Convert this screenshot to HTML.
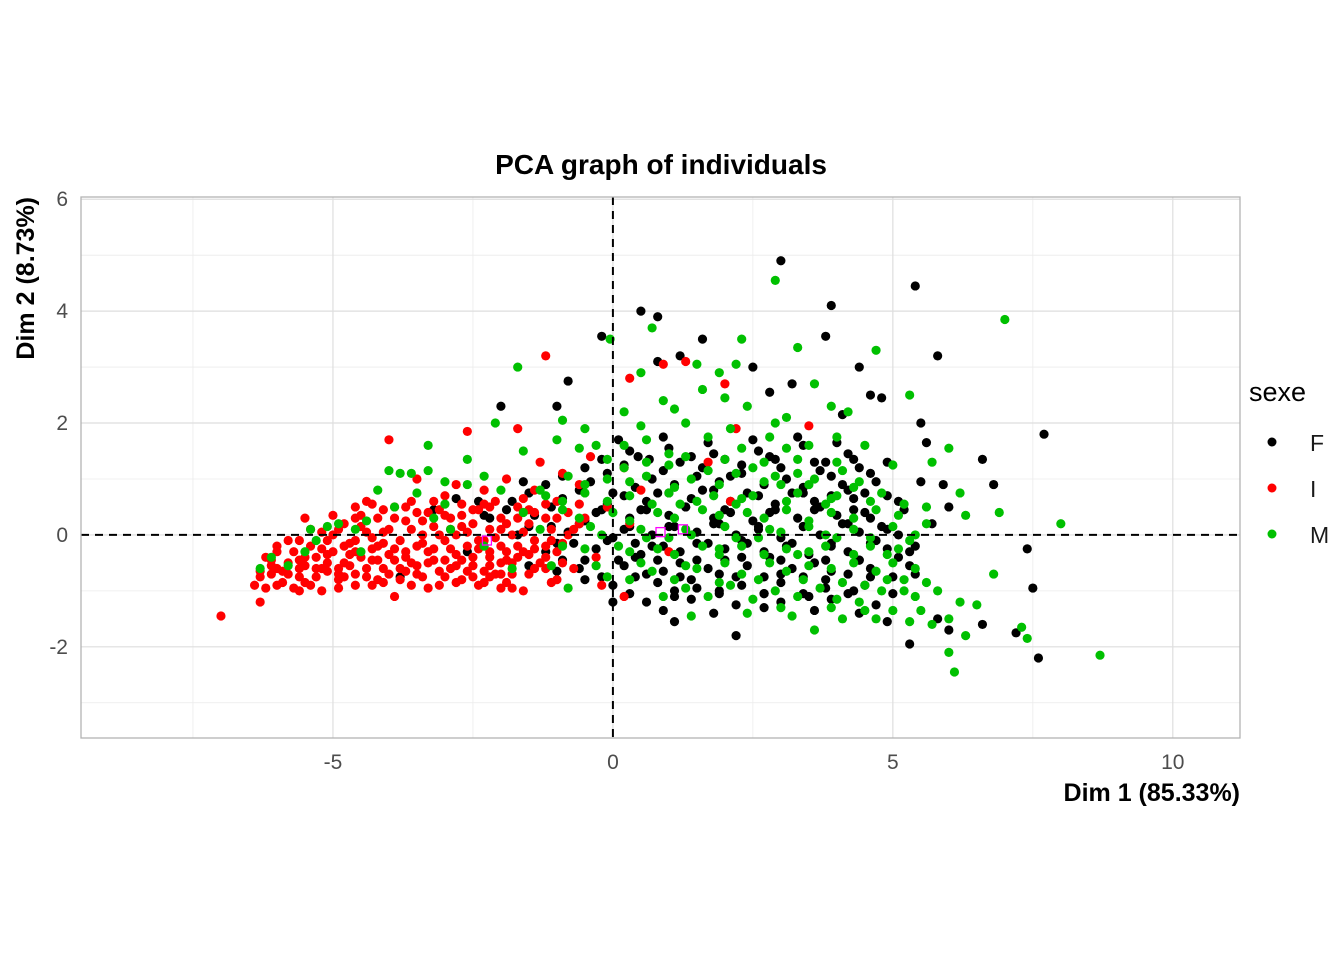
<!DOCTYPE html>
<html><head><meta charset="utf-8"><style>
html,body{margin:0;padding:0;background:#fff;}
svg{display:block;font-family:"Liberation Sans",sans-serif;}
</style></head><body>
<svg id="chart" width="1344" height="960" viewBox="0 0 1344 960">
<rect width="1344" height="960" fill="#fff"/>
<g id="grid"></g>
<g id="marks"></g>
<g id="axes"></g>
<text x="661" y="174" text-anchor="middle" font-size="28" font-weight="bold">PCA graph of individuals</text>
<text x="1240" y="801" text-anchor="end" font-size="25" font-weight="bold">Dim 1 (85.33%)</text>
<text transform="translate(34,197) rotate(-90)" text-anchor="end" font-size="25" font-weight="bold">Dim 2 (8.73%)</text>
<g>
<text x="1249" y="401" font-size="27">sexe</text>
<g><circle cx="1272" cy="442" r="4.5" fill="#000"/><text x="1310" y="451" font-size="23" fill="#1a1a1a">F</text></g>
<g><circle cx="1272" cy="488" r="4.5" fill="#ff0000"/><text x="1310" y="497" font-size="23" fill="#1a1a1a">I</text></g>
<g><circle cx="1272" cy="534" r="4.5" fill="#00c000"/><text x="1310" y="543" font-size="23" fill="#1a1a1a">M</text></g>
</g>
</svg>
<script>
const xTicks = [-5, 0, 5, 10];
const yTicks = [-2, 0, 2, 4, 6];
const xMinor = [-7.5, -2.5, 2.5, 7.5];
const yMinor = [-3, -1, 1, 3, 5];
const seriesF = [[3.0,4.9],[5.4,4.45],[3.9,4.1],[0.5,4.0],[0.8,3.9],[-0.2,3.55],[3.8,3.55],[5.8,3.2],[1.2,3.2],[0.8,3.1],[7.7,1.8],[7.5,-0.95],[7.6,-2.2],[7.2,-1.75],[7.4,-0.25],[6.6,1.35],[6.8,0.9],[5.9,0.9],[6.0,0.5],[5.6,1.65],[5.8,-1.5],[6.0,-1.7],[5.3,-1.95],[4.9,-1.55],[2.2,-1.8],[1.1,-1.55],[0.0,-1.2],[4.8,2.45],[4.6,2.5],[4.4,3.0],[3.2,2.7],[2.8,2.55],[1.6,3.5],[-1.0,2.3],[-0.8,2.75],[-2.0,2.3],[-3.8,-0.75],[-2.8,0.65],[-2.3,0.35],[6.6,-1.6],[5.7,0.2],[5.5,2.0],[4.1,2.15],[2.5,3.0],
[0.3,1.5],[1.0,1.55],[1.8,1.45],[2.6,1.5],[3.4,1.6],[4.2,1.45],
[-0.5,1.2],[0.2,1.25],[0.9,1.15],[1.6,1.2],[2.3,1.25],[3.0,1.2],[3.7,1.15],[4.4,1.2],[4.9,1.3],
[-1.2,0.9],[-0.4,0.95],[0.4,0.85],[1.1,0.9],[1.9,0.95],[2.7,0.9],[3.4,0.85],[4.1,0.9],[4.7,0.95],
[-1.8,0.6],[-0.9,0.65],[-0.1,0.55],[0.6,0.6],[1.4,0.65],[2.1,0.6],[2.9,0.55],[3.6,0.6],[4.3,0.65],[5.1,0.6],
[-2.2,0.3],[-1.4,0.35],[-0.5,0.25],[0.3,0.3],[1.0,0.35],[1.8,0.3],[2.5,0.25],[3.3,0.3],[4.0,0.35],[4.6,0.3],
[-1.7,0.0],[-0.8,0.05],[0.0,-0.05],[0.7,0.0],[1.5,0.05],[2.2,0.0],[3.0,-0.05],[3.7,0.0],[4.4,0.05],[5.1,0.0],
[-1.2,-0.3],[-0.3,-0.25],[0.5,-0.35],[1.2,-0.3],[2.0,-0.25],[2.7,-0.3],[3.5,-0.35],[4.2,-0.3],[4.9,-0.25],
[-0.6,-0.6],[0.2,-0.55],[0.9,-0.65],[1.7,-0.6],[2.4,-0.55],[3.2,-0.6],[3.9,-0.65],[4.6,-0.6],[5.3,-0.55],
[0.0,-0.9],[0.8,-0.85],[1.5,-0.95],[2.3,-0.9],[3.0,-0.85],[3.8,-0.95],[4.5,-0.9],
[0.6,-1.2],[1.4,-1.15],[2.2,-1.25],[3.0,-1.2],[3.9,-1.15],[4.7,-1.25],
[0.65,1.35],[1.4,1.4],[2.1,1.05],[2.9,1.35],[3.8,1.3],[0.0,0.75],[0.8,0.75],[1.6,0.8],[2.4,0.75],[3.2,0.75],[3.9,0.7],[4.5,0.75],
[-0.2,0.45],[0.6,0.45],[1.3,0.5],[2.0,0.45],[2.8,0.4],[3.6,0.45],[4.3,0.45],[-1.1,0.15],[0.3,0.15],[1.1,0.15],[1.9,0.2],[2.6,0.15],[3.4,0.15],[4.1,0.2],[4.8,0.15],
[-0.7,-0.15],[0.4,-0.15],[0.9,-0.2],[1.7,-0.15],[2.4,-0.15],[3.2,-0.15],[3.9,-0.2],[4.6,-0.15],[0.1,-0.45],[0.8,-0.45],[1.5,-0.45],[2.3,-0.4],[3.0,-0.45],[3.8,-0.45],[4.4,-0.45],
[0.4,-0.75],[1.2,-0.75],[1.9,-0.7],[2.7,-0.75],[3.4,-0.75],[4.2,-0.7],[5.0,-0.75],[1.1,-1.0],[1.9,-1.05],[2.7,-1.05],[3.4,-1.05],[4.2,-1.05],[5.0,-1.05],[-1.5,-0.55],[-0.9,-0.45],[5.5,0.95],[5.3,-0.3],
[0.1,1.7],[0.9,1.75],[1.7,1.65],[2.5,1.7],[3.3,1.75],[4.0,1.65],
[-0.2,1.35],[0.45,1.4],[1.2,1.3],[2.0,1.35],[2.8,1.4],[3.6,1.3],[4.3,1.35],
[-0.9,1.05],[-0.1,1.1],[0.7,1.0],[1.5,1.05],[2.3,1.1],[3.1,1.0],[3.9,1.05],[4.6,1.1],
[-1.5,0.75],[-0.6,0.8],[0.2,0.7],[1.0,0.75],[1.8,0.8],[2.6,0.7],[3.4,0.75],[4.2,0.8],[4.9,0.7],
[-1.9,0.45],[-1.1,0.5],[-0.3,0.4],[0.5,0.45],[1.3,0.5],[2.1,0.4],[2.9,0.45],[3.7,0.5],[4.5,0.4],[5.2,0.45],
[-1.5,0.15],[-0.6,0.2],[0.2,0.1],[1.0,0.15],[1.8,0.2],[2.6,0.1],[3.4,0.15],[4.2,0.2],[4.9,0.1],
[-1.0,-0.15],[-0.1,-0.1],[0.7,-0.2],[1.5,-0.15],[2.3,-0.1],[3.1,-0.2],[3.9,-0.15],[4.7,-0.1],[5.4,-0.2],
[-0.5,-0.45],[0.4,-0.4],[1.2,-0.5],[2.0,-0.45],[2.8,-0.4],[3.6,-0.5],[4.4,-0.45],[5.1,-0.4],
[-0.2,-0.75],[0.6,-0.7],[1.4,-0.8],[2.2,-0.75],[3.0,-0.7],[3.8,-0.8],[4.6,-0.75],[5.4,-0.7],
[0.3,-1.05],[1.1,-1.1],[1.9,-1.0],[2.7,-1.05],[3.5,-1.1],[4.3,-1.0],
[0.9,-1.35],[1.8,-1.4],[2.7,-1.3],[3.6,-1.35],[4.4,-1.4],[-0.5,-0.8],[-1.0,-0.65],[-1.6,0.95],[-2.4,0.6],[-2.6,-0.3],[-3.2,0.45]];
const seriesI = [[-7.0,-1.45],[-6.3,-1.2],[-6.4,-0.9],[-6.2,-0.95],[-6.1,-0.7],[-6.0,-0.6],[-6.2,-0.4],[-5.9,-0.85],[-5.8,-0.5],[-5.7,-0.3],[-5.6,-0.75],[-5.5,-0.55],[-5.4,-0.2],[-5.4,-0.9],[-5.3,-0.4],[-5.2,-1.0],[-5.1,-0.65],[-5.0,-0.3],[-5.0,0.0],[-4.9,-0.8],[-4.8,-0.5],[-4.8,0.2],[-4.7,-0.15],[-4.6,-0.7],[-4.5,0.35],[-4.5,-0.4],[-4.4,0.05],[-4.3,-0.9],[-4.3,-0.25],[-4.2,0.3],[-4.1,-0.6],[-4.0,0.1],[-4.0,-0.35],[-3.9,-1.1],[-3.9,0.5],[-3.8,-0.8],[-3.8,-0.1],[-3.7,0.25],[-3.6,-0.5],[-3.6,0.6],[-3.5,-0.2],[-3.4,0.0],[-3.4,-0.75],[-3.3,0.4],[-3.2,-0.45],[-3.2,0.15],[-3.1,-0.9],[-3.0,-0.1],[-3.0,0.7],[-2.9,-0.6],[-2.9,0.3],[-2.8,0.0],[-2.8,-0.35],[-2.7,-0.8],[-2.7,0.55],[-2.6,-0.2],[-2.6,1.85],[-2.5,0.2],[-2.5,-0.55],[-2.4,-0.9],[-2.4,0.45],[-2.3,-0.1],[-2.3,0.8],[-2.2,-0.4],[-2.2,0.1],[-2.1,-0.7],[-2.1,0.6],[-2.0,-0.2],[-2.0,0.3],[-1.9,-0.85],[-1.9,1.0],[-1.8,-0.5],[-1.8,0.0],[-1.7,1.9],[-1.7,0.5],[-1.6,-1.0],[-1.6,-0.3],[-1.5,0.2],[-1.5,-0.7],[-1.4,0.8],[-1.4,-0.1],[-1.3,-0.5],[-1.3,1.3],[-1.2,3.2],[-1.2,0.3],[-1.1,-0.85],[-1.0,0.6],[-1.0,-0.3],[-0.9,1.1],[-0.8,0.0],[-0.7,-0.6],[-0.6,0.9],[-0.5,0.3],[-0.3,-0.4],[-0.1,0.5],[0.2,-1.1],[0.3,2.8],[0.2,1.2],[0.9,3.05],[1.3,3.1],[2.0,2.7],[2.2,1.9],[3.5,1.95],[1.7,1.3],[2.1,0.6],[-4.0,1.7],[-5.5,0.3],[-6.0,-0.2],[-5.1,-0.1],[-4.6,0.5],[-3.3,-0.95],[-2.0,-0.95],[-1.0,-0.8],[-3.5,1.0],[-2.8,0.9],[-4.4,0.6],[-5.8,-0.1],[-6.1,-0.45],[-5.3,-0.75],[-4.2,-0.8],[-3.7,-0.65],[-2.4,-0.25],[-1.6,0.65],[-0.4,1.4],[0.5,0.8],[1.0,-0.3],[-0.2,-0.9],[-5.6,-1.0],[-4.9,-0.95],[-4.1,0.45],[-3.0,-0.45],[-2.2,-0.75],[-1.2,-0.6],[-0.6,0.2],[0.3,0.2],
[-5.9,-0.65],[-5.6,-0.45],[-5.2,-0.6],[-5.2,-0.25],[-4.9,-0.6],[-4.7,-0.35],[-4.6,-0.1],[-4.4,-0.6],[-4.2,-0.45],[-4.1,-0.15],[-3.9,-0.45],[-3.7,-0.3],[-3.5,-0.55],[-3.4,0.25],[-3.3,-0.3],[-3.1,-0.65],[-3.1,0.45],[-2.9,-0.25],[-2.7,0.15],[-2.6,-0.65],[-2.5,-0.4],[-2.3,0.55],[-2.2,-0.55],[-2.0,-0.5],[-1.9,0.2],[-1.8,-0.7],[-1.7,-0.2],[-1.5,-0.35],[-1.4,0.4],[-1.2,-0.2],[-1.1,0.1],[-0.9,-0.5],[-0.8,0.4],[-4.8,-0.75],[-5.7,-0.95],[-6.3,-0.75],
[-4.3,0.55],[-3.7,0.5],[-3.2,0.6],[-2.7,0.35],[-2.2,0.5],[-1.7,0.3],[-1.2,0.55],
[-5.0,0.35],[-4.6,0.3],[-3.9,0.3],[-3.5,0.4],[-3.0,0.35],[-2.5,0.45],[-2.0,0.1],[-1.5,0.45],[-1.0,0.3],[-0.6,0.55],
[-5.4,0.1],[-4.9,0.1],[-4.5,0.15],[-4.1,0.05],[-3.6,0.1],[-3.1,0.0],[-2.6,0.05],[-2.1,-0.05],[-1.6,0.05],[-1.1,-0.1],[-0.7,0.1],
[-5.6,-0.1],[-5.2,0.05],[-4.8,-0.2],[-4.3,-0.05],[-3.9,-0.25],[-3.4,-0.15],[-2.9,0.1],[-2.4,-0.1],[-1.9,-0.3],[-1.4,-0.25],[-0.9,-0.15],
[-6.0,-0.3],[-5.5,-0.4],[-5.1,-0.35],[-4.6,-0.3],[-4.2,-0.2],[-3.7,-0.4],[-3.2,-0.25],[-2.7,-0.45],[-2.2,-0.3],[-1.7,-0.4],[-1.2,-0.4],
[-6.1,-0.55],[-5.6,-0.6],[-5.1,-0.5],[-4.7,-0.55],[-4.3,-0.45],[-3.8,-0.6],[-3.3,-0.5],[-2.8,-0.55],[-2.3,-0.65],[-1.9,-0.45],[-1.4,-0.6],
[-6.3,-0.65],[-5.8,-0.7],[-5.3,-0.6],[-4.9,-0.7],[-4.4,-0.75],[-4.0,-0.7],[-3.5,-0.7],[-3.0,-0.75],[-2.5,-0.75],[-2.0,-0.7],
[-6.0,-0.9],[-5.5,-0.85],[-4.6,-0.9],[-4.1,-0.85],[-3.6,-0.9],[-2.8,-0.85],[-2.3,-0.85],[-1.8,-0.95]];
const seriesM = [[2.9,4.55],[7.0,3.85],[8.7,-2.15],[8.0,0.2],[6.1,-2.45],[6.0,-2.1],[7.4,-1.85],[7.3,-1.65],[6.2,0.75],[6.3,0.35],[5.7,1.3],[6.0,1.55],[6.9,0.4],[6.8,-0.7],[5.3,2.5],[4.7,3.3],[3.3,3.35],[2.3,3.5],[2.2,3.05],[1.5,3.05],[0.7,3.7],[-0.05,3.5],[-1.7,3.0],[-2.1,2.0],[-3.3,1.6],[-4.0,1.15],[-4.9,0.2],[-5.1,0.15],[-5.5,-0.3],[-6.1,-0.4],[-6.3,-0.6],[-4.5,-0.3],[-3.0,0.55],[-3.8,1.1],[-2.6,1.35],[-0.9,2.05],[-1.3,0.8],[3.6,2.7],[4.2,2.2],[4.0,1.75],[5.6,0.5],[5.6,0.2],[5.0,1.25],[6.2,-1.2],[6.5,-1.25],[5.8,-1.0],[5.4,-1.1],[5.2,-0.8],[4.8,-1.0],[3.6,-1.7],[1.4,-1.45],[-0.8,-0.95],[-1.8,-0.6],[6.0,-1.5],[6.3,-1.8],[5.7,-1.6],
[-3.6,1.1],[-3.3,1.15],[-4.2,0.8],[-3.9,0.5],[-3.5,0.75],[-2.3,1.05],[-1.6,1.5],[-1.0,1.7],[-0.5,1.9],[0.2,2.2],[0.9,2.4],[1.6,2.6],[2.4,2.3],[3.1,2.1],[3.9,2.3],[0.5,2.9],[1.9,2.9],[-5.3,-0.1],[-4.6,0.1],[-2.9,0.1],
[-0.1,1.35],[0.6,1.3],[1.3,1.4],[2.0,1.35],[2.7,1.3],[3.3,1.35],[4.0,1.3],[-0.8,1.05],[-0.1,1.0],[0.6,1.05],[1.4,1.0],[2.2,1.1],[2.9,1.05],[3.6,1.0],[4.4,0.95],
[-1.2,0.7],[-0.5,0.75],[0.3,0.7],[1.0,0.75],[1.8,0.7],[2.5,0.7],[3.3,0.75],[4.0,0.7],[4.8,0.75],[-1.6,0.4],[-0.9,0.45],[0.0,0.4],[0.8,0.4],[1.6,0.45],[2.4,0.4],[3.1,0.45],[3.9,0.4],[4.7,0.45],
[-1.3,0.1],[-0.4,0.15],[0.5,0.1],[1.3,0.1],[2.0,0.15],[2.8,0.1],[3.5,0.15],[4.3,0.1],[5.0,0.15],[-0.9,-0.2],[0.1,-0.2],[0.8,-0.25],[1.6,-0.2],[2.3,-0.2],[3.1,-0.25],[3.8,-0.2],[4.6,-0.2],[5.3,-0.1],
[-0.3,-0.55],[0.5,-0.5],[1.3,-0.55],[2.0,-0.5],[2.8,-0.5],[3.5,-0.55],[4.3,-0.5],[5.0,-0.5],[0.3,-0.8],[1.1,-0.8],[1.9,-0.85],[2.6,-0.8],[3.4,-0.8],[4.1,-0.85],[4.9,-0.8],[5.6,-0.85],
[0.9,-1.1],[1.7,-1.1],[2.5,-1.15],[3.3,-1.1],[4.0,-1.15],[4.5,-1.35],[3.2,-1.45],[2.4,-1.4],[4.1,-1.5],[5.0,-1.35],[5.5,-1.35],[1.2,0.55],[2.2,0.55],[3.0,0.9],[3.8,0.55],[1.0,-0.05],[2.6,-0.05],[4.0,-0.05],[1.9,-0.35],[3.3,-0.35],[4.9,-0.35],[0.6,1.7],[1.7,1.75],[2.8,1.75],[3.5,1.6],[4.5,1.6],[-0.3,1.6],
[0.5,1.95],[1.3,2.0],[2.1,1.9],[2.9,2.0],[1.1,2.25],[2.0,2.45],[-0.6,1.55],[0.2,1.6],[1.0,1.45],[2.3,1.55],[3.1,1.55],
[0.2,1.2],[1.0,1.25],[1.7,1.15],[2.5,1.2],[3.3,1.1],[4.1,1.15],[-0.5,0.9],[0.3,0.95],[1.1,0.85],[1.9,0.9],[2.7,0.95],[3.5,0.9],[4.3,0.85],
[-0.9,0.6],[-0.1,0.6],[0.7,0.55],[1.5,0.6],[2.3,0.65],[3.1,0.6],[3.9,0.65],[4.6,0.6],[5.2,0.55],
[-0.6,0.3],[0.3,0.25],[1.1,0.3],[1.9,0.35],[2.7,0.3],[3.5,0.25],[4.3,0.3],[5.1,0.35],
[-0.2,0.0],[0.6,-0.05],[1.4,0.0],[2.2,-0.05],[3.0,0.05],[3.8,0.0],[4.6,-0.05],[5.4,0.0],
[0.3,-0.3],[1.1,-0.35],[1.9,-0.25],[2.7,-0.35],[3.5,-0.3],[4.3,-0.35],[5.1,-0.25],
[0.7,-0.65],[1.5,-0.6],[2.3,-0.7],[3.1,-0.65],[3.9,-0.6],[4.7,-0.65],[5.4,-0.6],
[1.3,-0.95],[2.1,-0.9],[2.9,-1.0],[3.7,-0.95],[4.5,-0.9],[5.2,-1.0],[3.0,-1.3],[3.9,-1.3],[4.7,-1.5],[5.3,-1.55],[4.4,-1.2],
[-2.0,0.8],[-2.6,0.9],[-3.0,0.95],[-3.2,0.3],[-2.3,-0.2],[-1.1,-0.55],[-0.5,-0.25],[-0.1,-0.75],[-4.4,0.25],[-5.4,0.1],[-5.8,-0.55]];
const barycenters = [[-2.25,-0.1],[0.85,0.05],[1.25,0.1]];

const NS = "http://www.w3.org/2000/svg";
const px0 = 81, px1 = 1240, py0 = 197, py1 = 738;
const xDom = [-9.5, 11.2], yDom = [-3.63, 6.04];
function xs(v){ return px0 + (v - xDom[0]) / (xDom[1] - xDom[0]) * (px1 - px0); }
function ys(v){ return py1 - (v - yDom[0]) / (yDom[1] - yDom[0]) * (py1 - py0); }
function mk(tag, attrs, parent){ const e = document.createElementNS(NS, tag); for (const k in attrs) e.setAttribute(k, attrs[k]); parent.appendChild(e); return e; }

const grid = document.getElementById('grid');
const axes = document.getElementById('axes');
const marks = document.getElementById('marks');
mk('rect', {x:px0, y:py0, width:px1-px0, height:py1-py0, fill:'#fff'}, grid);
xMinor.forEach(v => { const l = mk('line', {x1:xs(v), x2:xs(v), y1:py0, y2:py1, stroke:'#ebebeb', 'stroke-width':0.8}, grid);

 });
yMinor.forEach(v => { const l = mk('line', {x1:px0, x2:px1, y1:ys(v), y2:ys(v), stroke:'#ebebeb', 'stroke-width':0.8}, grid);

 });
xTicks.forEach(v => { const l = mk('line', {x1:xs(v), x2:xs(v), y1:py0, y2:py1, stroke:'#dedede', 'stroke-width':1.2}, grid);


const t = mk('text', {x:xs(v), y:py1+31, 'text-anchor':'middle', 'font-size':21, fill:'#4d4d4d'}, axes);
t.textContent = v;

 });
yTicks.forEach(v => { const l = mk('line', {x1:px0, x2:px1, y1:ys(v), y2:ys(v), stroke:'#dedede', 'stroke-width':1.2}, grid);


const t = mk('text', {x:px0-13, y:ys(v)+7, 'text-anchor':'end', 'font-size':21, fill:'#4d4d4d'}, axes);
t.textContent = v;

 });

function drawSeries(data, color, name){
  data.forEach(p => {
    const c = mk('circle', {cx:xs(p[0]), cy:ys(p[1]), r:4.6, fill:color}, marks);
    
    
  });
}
drawSeries(seriesF, '#000000', 'point-f');
drawSeries(seriesI, '#ff0000', 'point-i');
drawSeries(seriesM, '#00c000', 'point-m');
barycenters.forEach(p => {
  const r = mk('rect', {x:xs(p[0])-4.5, y:ys(p[1])-4.5, width:9, height:9, fill:'none', stroke:'#ff00ff', 'stroke-width':1.3}, marks);
  
  
});
const h = mk('line', {x1:px0, x2:px1, y1:ys(0), y2:ys(0), stroke:'#000', 'stroke-width':2, 'stroke-dasharray':'8,6'}, axes);


const v0 = mk('line', {x1:xs(0), x2:xs(0), y1:py0, y2:py1, stroke:'#000', 'stroke-width':2, 'stroke-dasharray':'8,6'}, axes);


const border = mk('rect', {x:px0, y:py0, width:px1-px0, height:py1-py0, fill:'none', stroke:'#b3b3b3', 'stroke-width':1.3}, axes);


</script>
</body></html>
